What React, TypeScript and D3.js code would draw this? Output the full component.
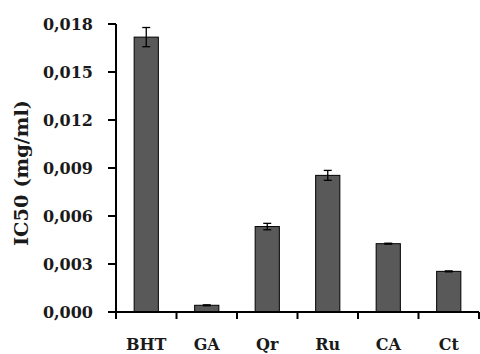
import React from "react";
import * as d3 from "d3";

const categories = ["BHT", "GA", "Qr", "Ru", "CA", "Ct"];
const ic50 = [0.01718, 0.00042, 0.00534, 0.00854, 0.00427, 0.00254];
const errors = [0.0006, 0.00003, 0.0002, 0.00031, 0.00003, 0.00003];
const yTicks = [0, 0.003, 0.006, 0.009, 0.012, 0.015, 0.018];
const yTickLabels = ["0,000", "0,003", "0,006", "0,009", "0,012", "0,015", "0,018"];

const W = 480;
const H = 354;
const left = 116;
const right = 479;
const top = 24;
const bottom = 312;
const font = "'DejaVu Serif', serif";

export default function App() {
  const x = d3.scaleBand<string>().domain(categories).range([left, right]).paddingInner(0.6).paddingOuter(0.3);
  const bands = d3.scaleBand<string>().domain(categories).range([left, right]);
  const y = d3.scaleLinear().domain([0, 0.018]).range([bottom, top]);
  const bw = x.bandwidth();

  return (
    <svg width={W} height={H} style={{ position: "absolute", left: 0, top: 0, background: "#fff" }}>
      {categories.map((c, i) => {
        const x0 = x(c)!;
        const cx = x0 + bw / 2;
        const v = ic50[i];
        const e = errors[i];
        return (
          <g key={c}>
            <rect x={x0} y={y(v)} width={bw} height={bottom - y(v)} fill="#595959" stroke="#000" strokeWidth={1} />
            <line x1={cx} x2={cx} y1={y(v + e)} y2={y(v - e)} stroke="#000" strokeWidth={1.3} />
            <line x1={cx - 4} x2={cx + 4} y1={y(v + e)} y2={y(v + e)} stroke="#000" strokeWidth={1.3} />
            <line x1={cx - 4} x2={cx + 4} y1={y(v - e)} y2={y(v - e)} stroke="#000" strokeWidth={1.3} />
          </g>
        );
      })}
      {/* y axis */}
      <line x1={left} x2={left} y1={top} y2={bottom} stroke="#000" strokeWidth={2} />
      {yTicks.map((t, i) => (
        <g key={t}>
          <line x1={left - 8} x2={left} y1={y(t)} y2={y(t)} stroke="#000" strokeWidth={2} />
          <text x={93} y={y(t)} dy="0.36em" textAnchor="end" fontFamily={font} fontWeight="bold" fontSize={16} fill="#1a1a1a">
            {yTickLabels[i]}
          </text>
        </g>
      ))}
      {/* x axis */}
      <line x1={left} x2={right} y1={bottom} y2={bottom} stroke="#000" strokeWidth={2} />
      {categories.map((c) => (
        <line key={"t" + c} x1={bands(c)! + bands.bandwidth()} x2={bands(c)! + bands.bandwidth()} y1={bottom} y2={bottom + 7} stroke="#000" strokeWidth={2} />
      ))}
      <line x1={left} x2={left} y1={bottom} y2={bottom + 7} stroke="#000" strokeWidth={2} />
      {categories.map((c) => (
        <text key={"l" + c} x={bands(c)! + bands.bandwidth() / 2} y={350} textAnchor="middle" fontFamily={font} fontWeight="bold" fontSize={16} fill="#1a1a1a">
          {c}
        </text>
      ))}
      <text
        transform={`translate(28,173) rotate(-90)`}
        textAnchor="middle"
        fontFamily={font}
        fontWeight="bold"
        fontSize={18}
        textLength={146}
        lengthAdjust="spacingAndGlyphs"
        fill="#1a1a1a"
      >
        IC50 (mg/ml)
      </text>
    </svg>
  );
}
